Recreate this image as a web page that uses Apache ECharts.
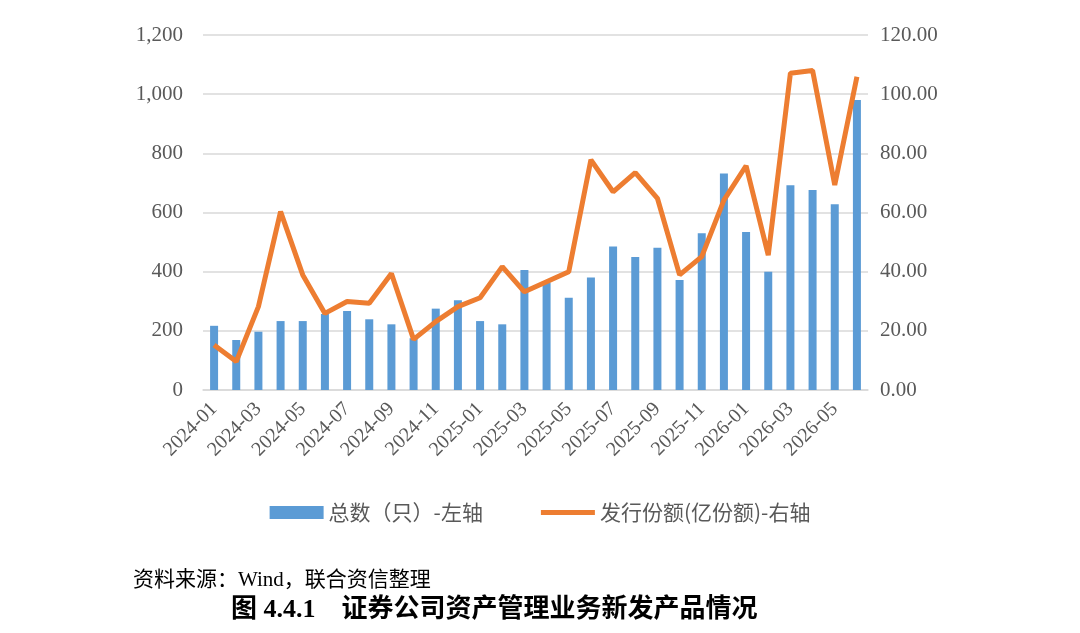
<!DOCTYPE html>
<html>
<head>
<meta charset="utf-8">
<script src="https://cdn.jsdelivr.net/npm/echarts@6/dist/echarts.min.js"></script>
<style>
  html, body { margin: 0; padding: 0; background: #fff; }
  #chart { width: 1080px; height: 633px; }
</style>
</head>
<body>
<div id="chart"></div>
<script>
// 月份
var months = ['2024-01', '2024-02', '2024-03', '2024-04', '2024-05', '2024-06', '2024-07', '2024-08', '2024-09', '2024-10',
    '2024-11', '2024-12', '2025-01', '2025-02', '2025-03', '2025-04', '2025-05', '2025-06', '2025-07', '2025-08',
    '2025-09', '2025-10', '2025-11', '2025-12', '2026-01', '2026-02', '2026-03', '2026-04', '2026-05', '2026-06'];
// 总数（只）-左轴
var totalCount = [217, 169, 197, 233, 233, 257, 267, 239, 222, 175,
    275, 303, 233, 222, 406, 363, 312, 380, 485, 450,
    481, 372, 530, 732, 534, 400, 692, 676, 628, 980];
// 发行份额(亿份额)-右轴
var issueShare = [15.2, 9.6, 28.2, 60.3, 38.9, 25.9, 29.9, 29.3, 39.4, 17.1,
    23.1, 28.2, 31.2, 41.7, 33.2, 36.6, 40.0, 77.8, 67.0, 73.5,
    64.8, 38.9, 45.1, 64.2, 75.8, 45.6, 107.1, 108.0, 69.3, 105.9];

var serif = "'Liberation Serif', 'Times New Roman', serif";
var cjk = "'Noto Sans CJK SC', sans-serif";
var grey = '#595959';

var chart = echarts.init(document.getElementById('chart'));
chart.setOption({
    backgroundColor: '#fff',
    animation: false,
    title: [{
        text: '资料来源：Wind，联合资信整理',
        left: 128,
        top: 565,
        textStyle: { fontFamily: serif + ", 'Noto Sans CJK SC'", fontSize: 21, fontWeight: 'normal', color: '#000' }
    }, {
        text: '图 4.4.1    证券公司资产管理业务新发产品情况',
        left: 226,
        top: 592,
        textStyle: { fontFamily: serif + ", 'Noto Sans CJK SC'", fontSize: 26, fontWeight: 'bold', color: '#000' }
    }],
    legend: {
        top: 497,
        left: 'center',
        itemGap: 58,
        itemWidth: 54,
        itemHeight: 13,
        textStyle: { fontFamily: cjk, fontSize: 21, color: grey },
        data: [
            { name: '总数（只）-左轴', icon: 'rect' },
            { name: '发行份额(亿份额)-右轴', icon: 'path://M0,0 L54,0 L54,5 L0,5 Z', itemStyle: { color: '#ed7d31' } }
        ]
    },
    grid: { left: 203, right: 212, top: 35, bottom: 243 },
    xAxis: {
        type: 'category',
        data: months,
        axisLine: { lineStyle: { color: '#d9d9d9', width: 1.5 } },
        axisTick: { show: false },
        axisLabel: {
            interval: 1,
            rotate: 45,
            margin: 16,
            fontFamily: serif,
            fontSize: 20,
            color: grey
        }
    },
    yAxis: [{
        type: 'value',
        min: 0,
        max: 1200,
        interval: 200,
        axisLine: { show: false },
        axisTick: { show: false },
        splitLine: { lineStyle: { color: '#d9d9d9', width: 1.5 } },
        axisLabel: {
            margin: 20,
            fontFamily: serif,
            fontSize: 21,
            color: grey,
            formatter: function (v) { return v.toLocaleString('en-US'); }
        }
    }, {
        type: 'value',
        min: 0,
        max: 120,
        interval: 20,
        axisLine: { show: false },
        axisTick: { show: false },
        splitLine: { show: false },
        axisLabel: {
            margin: 12,
            fontFamily: serif,
            fontSize: 21,
            color: grey,
            formatter: function (v) { return v.toFixed(2); }
        }
    }],
    series: [{
        name: '总数（只）-左轴',
        type: 'bar',
        yAxisIndex: 0,
        barWidth: 8,
        itemStyle: { color: '#5b9bd5' },
        data: totalCount
    }, {
        name: '发行份额(亿份额)-右轴',
        type: 'line',
        yAxisIndex: 1,
        symbol: 'none',
        lineStyle: { color: '#ed7d31', width: 5 },
        itemStyle: { color: '#ed7d31' },
        data: issueShare
    }]
});
</script>
</body>
</html>
